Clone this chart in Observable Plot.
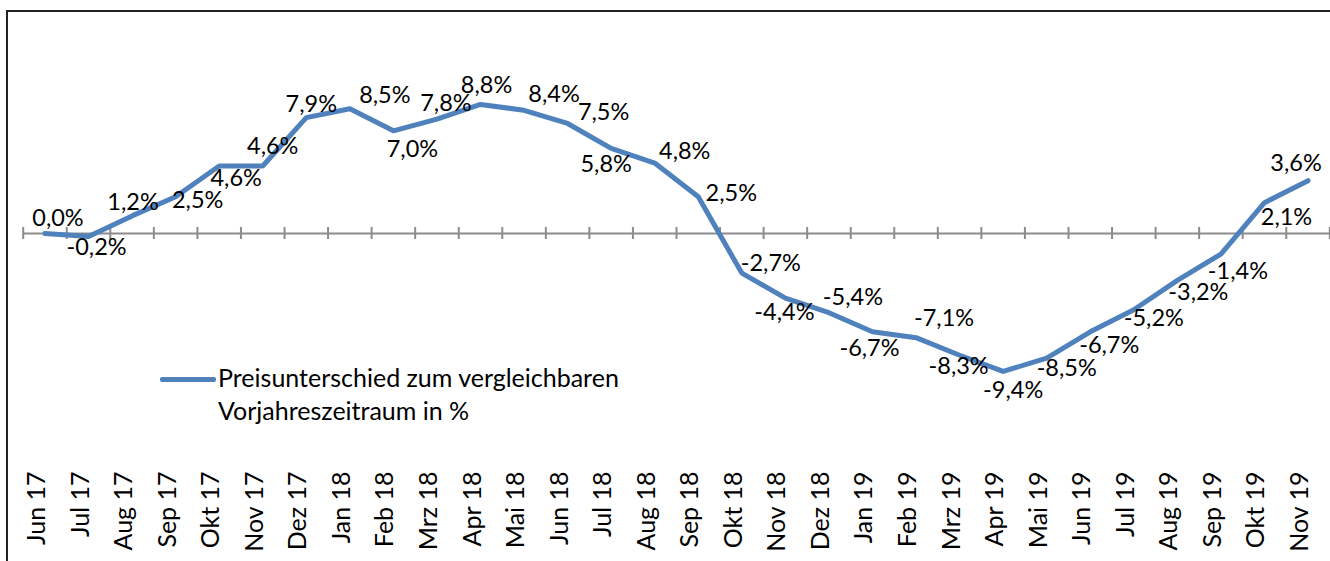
<!DOCTYPE html>
<html>
<head>
<meta charset="utf-8">
<script src="https://cdn.jsdelivr.net/npm/d3@7"></script>
<script src="https://cdn.jsdelivr.net/npm/@observablehq/plot@0.6"></script>
<style>
  html, body { margin: 0; padding: 0; background: #fff; }
  #wrap { position: relative; width: 1330px; height: 561px; overflow: hidden; font-family: Lato, sans-serif; }
  #frame { position: absolute; left: 6px; top: 10px; width: 1400px; height: 700px; border-left: 2px solid #222; border-top: 2px solid #222; }
  #chart { position: absolute; left: 0; top: 0; }
  #legend { position: absolute; left: 160px; top: 361px; }
  #legend .sw { position: absolute; left: 0; top: 16px; width: 56px; height: 4.5px; background: #4f81bd; border-radius: 2px; }
  #legend .tx { position: absolute; left: 58px; top: 0; font-size: 25px; line-height: 33px; color: #000; white-space: nowrap; }
</style>
</head>
<body>
<div id="wrap">
  <div id="frame"></div>
  <div id="chart"></div>
  <div id="legend"><div class="sw"></div><div class="tx">Preisunterschied zum vergleichbaren<br>Vorjahreszeitraum in %</div></div>
</div>
<script>
const months = ["Jun 17","Jul 17","Aug 17","Sep 17","Okt 17","Nov 17","Dez 17","Jan 18","Feb 18","Mrz 18","Apr 18","Mai 18","Jun 18","Jul 18","Aug 18","Sep 18","Okt 18","Nov 18","Dez 18","Jan 19","Feb 19","Mrz 19","Apr 19","Mai 19","Jun 19","Jul 19","Aug 19","Sep 19","Okt 19","Nov 19"];
const values = [0.0,-0.2,1.2,2.5,4.6,4.6,7.9,8.5,7.0,7.8,8.8,8.4,7.5,5.8,4.8,2.5,-2.7,-4.4,-5.4,-6.7,-7.1,-8.3,-9.4,-8.5,-6.7,-5.2,-3.2,-1.4,2.1,3.6];
// label placement offsets (pixels) relative to each point
const labelDx = [13,8,1,22,17,10,5,35,19,9,6,30,36,-5,30,33,29,-1,24,-3,28,-1,10,20,19,20,21,17,22,-12];
const labelDy = [-15,11,-13,4,12,-20,-13,-13,19,-16,-19,-16,-11,16,-12,-3,-10,14,-15,17,-19,11,19,10,14,9,12,17,15,-17];

const fmt = v => v.toFixed(1).replace(".", ",") + "%";
const data = values.map((v, i) => ({i, v, m: months[i]}));
const boundaries = d3.range(months.length + 1).map(i => i - 0.5);

const labelMarks = data.map((d, k) => Plot.text([d], {
  x: "i", y: "v", text: d => fmt(d.v), dx: labelDx[k], dy: labelDy[k],
  fontSize: 23.5, fill: "#000"
}));

const chart = Plot.plot({
  width: 1330, height: 561,
  marginTop: 0, marginLeft: 0, marginRight: 0, marginBottom: 90,
  x: {domain: [-0.5, months.length - 0.5], range: [22.7, 1329.3], axis: null},
  y: {domain: [-10, 10], range: [233 + 146.7, 233 - 146.7], axis: null},
  style: {fontFamily: "Lato, sans-serif", background: "transparent", overflow: "visible"},
  marks: [
    Plot.ruleY([0], {x1: -0.5, x2: months.length - 0.5, stroke: "#8c8c8c", strokeWidth: 2}),
    Plot.ruleX(boundaries, {y1: 0, y2: 0, insetTop: -6, insetBottom: -6, stroke: "#8c8c8c", strokeWidth: 2}),
    Plot.line(data, {x: "i", y: "v", stroke: "#4f81bd", strokeWidth: 5, strokeLinejoin: "round", strokeLinecap: "round"}),
    ...labelMarks,
    Plot.text(data, {x: "i", text: "m", frameAnchor: "bottom", rotate: -90, textAnchor: "end", dy: 0, fontSize: 25, fill: "#000"})
  ]
});
document.getElementById("chart").appendChild(chart);
</script>
</body>
</html>
